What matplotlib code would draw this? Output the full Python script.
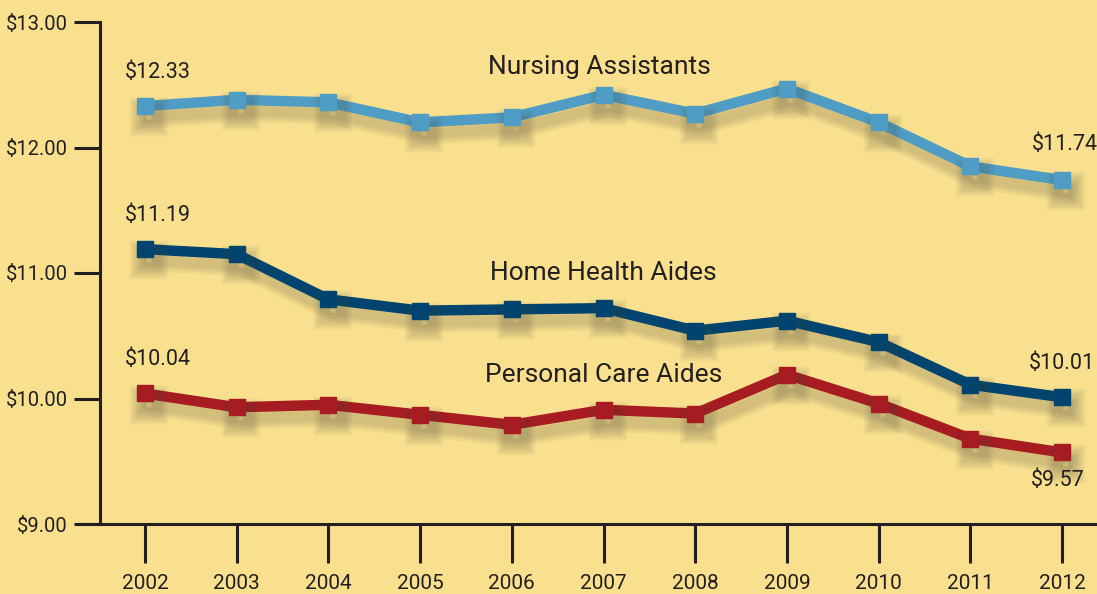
import matplotlib
matplotlib.use("Agg")
import matplotlib.pyplot as plt
import matplotlib.patheffects as pe

years = [2002, 2003, 2004, 2005, 2006, 2007, 2008, 2009, 2010, 2011, 2012]
nursing = [12.33, 12.38, 12.36, 12.20, 12.24, 12.42, 12.27, 12.47, 12.20, 11.85, 11.74]
home_health = [11.19, 11.15, 10.79, 10.70, 10.71, 10.72, 10.54, 10.62, 10.45, 10.11, 10.01]
personal_care = [10.04, 9.93, 9.95, 9.87, 9.79, 9.91, 9.88, 10.19, 9.96, 9.68, 9.57]
y_ticks = [9, 10, 11, 12, 13]
y_tick_labels = ["$9.00", "$10.00", "$11.00", "$12.00", "$13.00"]
series_names = ["Nursing Assistants", "Home Health Aides", "Personal Care Aides"]

plt.rcParams['font.family'] = ['Roboto', 'DejaVu Sans']

bg = "#F8E08E"
txt = "#231F20"
colors = ["#4F9DC4", "#00446F", "#A61C21"]

fig = plt.figure(figsize=(10.97, 5.94), dpi=100, facecolor=bg)
ax = fig.add_axes([100/1097, 1-524/594, 1-100/1097, (524-22)/594])
ax.set_facecolor(bg)

shadow = [pe.SimpleLineShadow(offset=(3, -8), shadow_color="#4a4538", alpha=0.055, linewidth=w)
          for w in (16, 13, 10, 7)] + [pe.Normal()]

for vals, c in zip([nursing, home_health, personal_care], colors):
    ax.plot(years, vals, color=c, lw=7.5, marker="s", ms=11.5, mec=c, mfc=c,
            solid_joinstyle="miter", path_effects=shadow, clip_on=False, zorder=3)

ax.set_xlim(2001.51, 2012.38)
ax.set_ylim(9, 13)
for s in ["top", "right"]:
    ax.spines[s].set_visible(False)
ax.spines["left"].set_linewidth(2.2)
ax.spines["bottom"].set_linewidth(2.2)
ax.spines["left"].set_color(txt)
ax.spines["bottom"].set_color(txt)
ax.spines["bottom"].set_bounds(2001.29, 2012.38)

ax.set_yticks(y_ticks)
ax.set_yticklabels(y_tick_labels)
ax.set_xticks(years)
ax.set_xticklabels([str(y) for y in years])
ax.tick_params(axis="y", length=19, width=2.2, color=txt, labelsize=14.5, labelcolor=txt, pad=4)
ax.tick_params(axis="x", length=28, width=2.2, color=txt, labelsize=15, labelcolor=txt, pad=8)

fs = 15.5
ax.text(2002.14, 12.60, "$12.33", ha="center", va="center", fontsize=fs, color=txt)
ax.text(2002.14, 11.46, "$11.19", ha="center", va="center", fontsize=fs, color=txt)
ax.text(2002.14, 10.31, "$10.04", ha="center", va="center", fontsize=fs, color=txt)
ax.text(2012.03, 12.02, "$11.74", ha="center", va="center", fontsize=fs, color=txt)
ax.text(2012.0, 10.28, "$10.01", ha="center", va="center", fontsize=fs, color=txt)
ax.text(2011.95, 9.35, "$9.57", ha="center", va="center", fontsize=fs, color=txt)

nfs = 19
ax.text(2006.95, 12.645, series_names[0], ha="center", va="center", fontsize=nfs, color=txt)
ax.text(2007.0, 11.0, series_names[1], ha="center", va="center", fontsize=nfs, color=txt)
ax.text(2007.0, 10.19, series_names[2], ha="center", va="center", fontsize=nfs, color=txt)

fig.savefig("out.png", dpi=100, facecolor=bg)
